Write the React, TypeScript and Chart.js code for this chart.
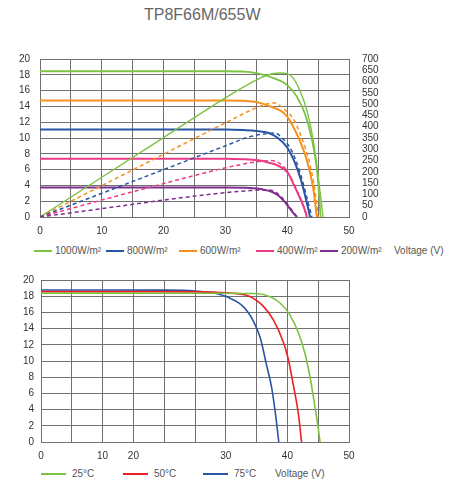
import React, { useEffect, useRef } from 'react';
import { Chart, registerables } from 'chart.js';

Chart.register(...registerables);

const FONT = '"Liberation Sans", Arial, sans-serif';

// ---------- Top chart data (I-V on left axis, P-V on right axis) ----------
const title = 'TP8F66M/655W';

const greenIV_V = [0, 10, 20, 30, 33, 35, 37.2, 40, 41.5, 42.9, 44, 44.8, 45.1, 45.4];
const greenIV_I = [18.45, 18.45, 18.45, 18.45, 18.4, 18.2, 17.75, 16.7, 15.3, 13.0, 9.8, 6.1, 3.4, 0];
const greenPV_V = [0, 10, 20, 30, 34, 36.7, 38.8, 40, 41, 42.1, 43.2, 44.2, 45.0, 45.5, 45.8];
const greenPV_P = [0, 176, 352, 528, 592, 628, 638, 635, 614, 557, 471, 342, 184, 69, 0];

const orangeIV_V = [0, 10, 20, 30, 33, 35, 36.9, 39.4, 40, 41.7, 43.1, 44.2, 44.8];
const orangeIV_I = [14.75, 14.75, 14.75, 14.75, 14.7, 14.55, 14.1, 13.2, 12.7, 10.25, 7.4, 3.7, 0];
const orangePV_V = [0, 10, 20, 30, 34, 36.9, 38, 39, 40, 41, 42, 43, 43.7, 44.5, 45];
const orangePV_P = [0, 139, 278, 417, 472, 502, 505, 490, 465, 435, 375, 300, 230, 115, 0];

const blueIV_V = [0, 10, 20, 30, 33, 35, 36.9, 38.5, 40, 41.2, 42.3, 43.1, 43.7];
const blueIV_I = [11.07, 11.07, 11.07, 11.07, 11.0, 10.9, 10.66, 10.0, 8.8, 6.97, 4.5, 2.05, 0];
const bluePV_V = [0, 10, 20, 30, 34, 36.9, 38, 39, 40.7, 42.1, 43.1, 43.6, 44.0];
const bluePV_P = [0, 105, 210, 315, 356, 370, 372, 355, 295, 195, 95, 40, 0];

const pinkIV_V = [0, 10, 20, 30, 33, 35.3, 36.9, 38.5, 40.1, 41.0, 41.8, 42.7, 43.2];
const pinkIV_I = [7.38, 7.38, 7.38, 7.38, 7.32, 7.17, 6.9, 6.5, 5.6, 4.2, 2.87, 1.23, 0];
const pinkPV_V = [0, 10, 20, 30, 34, 36, 37.5, 38.5, 39.5, 40.5, 41.5, 42.3, 43.3];
const pinkPV_P = [0, 75, 148, 218, 240, 248, 250, 242, 220, 180, 122, 72, 0];

const purpleIV_V = [0, 10, 20, 30, 34, 36, 37.5, 38.5, 39.5, 40.3, 41, 41.6];
const purpleIV_I = [3.72, 3.72, 3.72, 3.72, 3.66, 3.5, 3.2, 2.75, 2.0, 1.2, 0.5, 0];
const purplePV_V = [0, 10, 20, 30, 34, 36.5, 38, 39, 40, 41, 41.6];
const purplePV_P = [0, 37, 75, 108, 117, 120, 112, 90, 58, 22, 0];

const topLegendLabels = ['1000W/m²', '800W/m²', '600W/m²', '400W/m²', '200W/m²'];
const axisLabel = 'Voltage (V)';

// ---------- Bottom chart data (temperature) ----------
const t25_V = [0, 10, 20, 30, 34, 36.1, 38.8, 40.4, 41.8, 42.9, 43.7, 44.5, 45.0, 45.3];
const t25_I = [18.36, 18.36, 18.36, 18.36, 18.33, 18.2, 17.16, 15.7, 13.46, 10.78, 7.9, 4.2, 1.73, 0];
const t50_V = [0, 10, 20, 28, 30.7, 33.8, 36.1, 37.7, 39.3, 40.1, 40.95, 41.8, 42.3];
const t50_I = [18.56, 18.56, 18.56, 18.5, 18.4, 18.0, 16.75, 15.1, 12.4, 10.37, 7.08, 3.37, 0];
const t75_V = [0, 10, 20, 25, 28, 30.1, 32.8, 34.5, 35.6, 36.6, 37.45, 38.15, 38.6];
const t75_I = [18.77, 18.77, 18.75, 18.65, 18.4, 17.95, 16.75, 14.9, 12.84, 9.55, 6.67, 2.96, 0];

const bottomLegendLabels = ['25°C', '50°C', '75°C'];
const bottomTickValues = [0, 10, 15, 30, 40, 50];
const bottomTickLabels = ['0', '10', '20', '30', '40', '50'];

// colours
const GREEN = '#7cc242';
const ORANGE = '#f7901e';
const BLUE = '#2a55a5';
const PINK = '#ec3a86';
const PURPLE = '#7d2f8e';
const RED = '#ed2024';
const GRID = '#707070';
const TEXT = '#333333';

const pts = (xs: number[], ys: number[]) => xs.map((x, i) => ({ x, y: ys[i] }));

function line(data: any, color: string, width: number, axis: string, dashed = false) {
  return {
    data,
    borderColor: color,
    backgroundColor: color,
    borderWidth: width,
    borderDash: dashed ? [4, 3] : [],
    pointRadius: 0,
    fill: false,
    yAxisID: axis,
    cubicInterpolationMode: 'monotone' as const,
  };
}

function TopChart() {
  const ref = useRef<HTMLCanvasElement>(null);
  useEffect(() => {
    if (!ref.current) return;
    const chart = new Chart(ref.current, {
      type: 'line',
      data: {
        datasets: [
          line(pts(purplePV_V, purplePV_P), PURPLE, 1.5, 'y1', true),
          line(pts(pinkPV_V, pinkPV_P), PINK, 1.5, 'y1', true),
          line(pts(bluePV_V, bluePV_P), BLUE, 1.5, 'y1', true),
          line(pts(orangePV_V, orangePV_P), ORANGE, 1.5, 'y1', true),
          line(pts(greenPV_V, greenPV_P), GREEN, 1.4, 'y1'),
          line(pts(purpleIV_V, purpleIV_I), PURPLE, 2, 'y'),
          line(pts(pinkIV_V, pinkIV_I), PINK, 2, 'y'),
          line(pts(blueIV_V, blueIV_I), BLUE, 2, 'y'),
          line(pts(orangeIV_V, orangeIV_I), ORANGE, 2, 'y'),
          line(pts(greenIV_V, greenIV_I), GREEN, 1.8, 'y'),
        ],
      },
      options: {
        animation: false,
        responsive: false,
        devicePixelRatio: 1,
        layout: { padding: { top: 14, left: 0, right: 0, bottom: 0 } },
        plugins: { legend: { display: false }, tooltip: { enabled: false }, title: { display: false } },
        scales: {
          x: {
            type: 'linear',
            min: 0,
            max: 50,
            ticks: {
              stepSize: 5,
              autoSkip: false,
              maxRotation: 0,
              padding: 8,
              color: TEXT,
              font: { family: FONT, size: 10 },
              callback: (v: any) => (Number(v) % 10 === 0 ? String(v) : ''),
            },
            grid: { color: GRID, drawTicks: false, lineWidth: 1 },
            border: { color: GRID },
            afterFit: (s: any) => { s.height = 23; },
          },
          y: {
            position: 'left',
            min: 0,
            max: 20,
            ticks: { stepSize: 2, autoSkip: false, padding: 10, color: TEXT, font: { family: FONT, size: 10 } },
            grid: { color: GRID, drawTicks: false, lineWidth: 1 },
            border: { color: GRID },
            afterFit: (s: any) => { s.width = 40; },
          },
          y1: {
            position: 'right',
            min: 0,
            max: 700,
            ticks: { stepSize: 50, autoSkip: false, padding: 13, color: TEXT, font: { family: FONT, size: 10 } },
            grid: { drawOnChartArea: false, drawTicks: false },
            border: { color: GRID },
            afterFit: (s: any) => { s.width = 105; },
          },
        },
      } as any,
    });
    return () => chart.destroy();
  }, []);
  return <canvas ref={ref} width={454} height={200} style={{ position: 'absolute', left: 0, top: 40, width: 454, height: 200 }} />;
}

function BottomChart() {
  const ref = useRef<HTMLCanvasElement>(null);
  useEffect(() => {
    if (!ref.current) return;
    const chart = new Chart(ref.current, {
      type: 'line',
      data: {
        datasets: [
          line(pts(t25_V, t25_I), GREEN, 1.6, 'y'),
          line(pts(t50_V, t50_I), RED, 1.6, 'y'),
          line(pts(t75_V, t75_I), BLUE, 1.6, 'y'),
        ],
      },
      options: {
        animation: false,
        responsive: false,
        devicePixelRatio: 1,
        layout: { padding: { top: 15, left: 0, right: 105, bottom: 0 } },
        plugins: { legend: { display: false }, tooltip: { enabled: false } },
        scales: {
          x: {
            type: 'linear',
            min: 0,
            max: 50,
            ticks: {
              stepSize: 5,
              autoSkip: false,
              maxRotation: 0,
              padding: 8,
              color: TEXT,
              font: { family: FONT, size: 10 },
              callback: (v: any) => {
                const i = bottomTickValues.indexOf(Number(v));
                return i >= 0 ? bottomTickLabels[i] : '';
              },
            },
            grid: { color: GRID, drawTicks: false, lineWidth: 1 },
            border: { color: GRID },
            afterFit: (s: any) => { s.height = 23; },
          },
          y: {
            position: 'left',
            min: 0,
            max: 20,
            ticks: { stepSize: 2, autoSkip: false, padding: 7, color: TEXT, font: { family: FONT, size: 10 } },
            grid: { color: GRID, drawTicks: false, lineWidth: 1 },
            border: { color: GRID },
            afterFit: (s: any) => { s.width = 41; },
          },
        },
      } as any,
    });
    return () => chart.destroy();
  }, []);
  return <canvas ref={ref} width={454} height={200} style={{ position: 'absolute', left: 0, top: 265, width: 454, height: 200 }} />;
}

const txt: React.CSSProperties = {
  position: 'absolute',
  fontFamily: FONT,
  fontSize: 10,
  lineHeight: '12px',
  color: '#555',
  whiteSpace: 'nowrap',
};

function LegendItem({ x, w, y, color, label, gap }: { x: number; w: number; y: number; color: string; label: string; gap: number }) {
  return (
    <>
      <div style={{ position: 'absolute', left: x, top: y - 1, width: w, height: 2, background: color }} />
      <div style={{ ...txt, left: x + w + gap, top: y - 6 }}>{label}</div>
    </>
  );
}

export default function App() {
  const topColors = [GREEN, BLUE, ORANGE, PINK, PURPLE];
  const topX = [34, 106, 179, 256, 320];
  const botColors = [GREEN, RED, BLUE];
  const botX = [41, 123, 203];
  return (
    <div style={{ position: 'absolute', left: 0, top: 0, width: 454, height: 482, background: '#fff', overflow: 'hidden' }}>
      <div style={{ position: 'absolute', left: 144, top: 6, fontFamily: FONT, fontSize: 16, lineHeight: '18px', color: '#666', whiteSpace: 'nowrap' }}>{title}</div>
      <TopChart />
      {topLegendLabels.map((l, i) => (
        <LegendItem key={l} x={topX[i]} w={18} y={251} color={topColors[i]} label={l} gap={3} />
      ))}
      <div style={{ ...txt, left: 394, top: 245 }}>{axisLabel}</div>
      <BottomChart />
      {bottomLegendLabels.map((l, i) => (
        <LegendItem key={l} x={botX[i]} w={25} y={474} color={botColors[i]} label={l} gap={6} />
      ))}
      <div style={{ ...txt, left: 275, top: 468 }}>{axisLabel}</div>
    </div>
  );
}
